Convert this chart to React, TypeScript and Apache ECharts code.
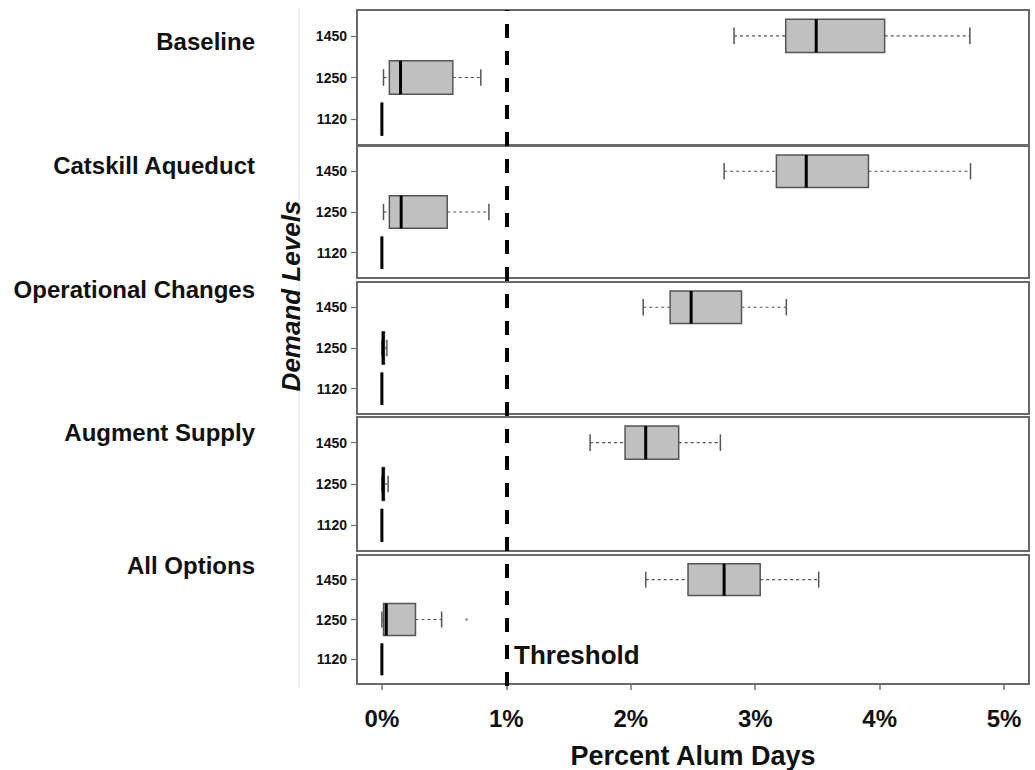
import React, { useEffect, useRef } from "react";
import * as echarts from "echarts";

// Demand level categories (bottom to top)
const categories = ["1120", "1250", "1450"];
const panelNames = ["Baseline", "Catskill Aqueduct", "Operational Changes", "Augment Supply", "All Options"];
const xTicks = [0, 1, 2, 3, 4, 5];
const threshold = 1;

// [min, q1, median, q3, max] per category (1120, 1250, 1450), in percent
const baseline = [
  [0, 0, 0, 0, 0],
  [0.013, 0.06, 0.15, 0.57, 0.795],
  [2.83, 3.245, 3.49, 4.04, 4.725],
];
const catskill = [
  [0, 0, 0, 0, 0],
  [0.013, 0.06, 0.155, 0.525, 0.86],
  [2.75, 3.17, 3.41, 3.91, 4.73],
];
const operational = [
  [0, 0, 0, 0, 0],
  [0, 0.005, 0.01, 0.02, 0.04],
  [2.1, 2.316, 2.485, 2.89, 3.25],
];
const augment = [
  [0, 0, 0, 0, 0],
  [0, 0.005, 0.01, 0.02, 0.05],
  [1.673, 1.954, 2.12, 2.385, 2.72],
];
const allOptions = [
  [0, 0, 0, 0, 0],
  [0, 0.013, 0.035, 0.27, 0.48],
  [2.12, 2.46, 2.75, 3.04, 3.51],
];
const allOptionsOutliers = [[0.68, "1250"]];

const panelData = [baseline, catskill, operational, augment, allOptions];

const FONT = "'Liberation Sans', Arial, sans-serif";
const NARROW = "'Liberation Sans Narrow', 'Liberation Sans', Arial, sans-serif";

const gridBoxes = [
  { top: 10, height: 135 },
  { top: 146, height: 132 },
  { top: 282, height: 132 },
  { top: 417, height: 134 },
  { top: 555, height: 131 },
];
const labelY = [41, 165, 289, 432, 565];

export default function App() {
  const ref = useRef<HTMLDivElement>(null);
  useEffect(() => {
    if (!ref.current) return;
    const chart = echarts.init(ref.current, null, { renderer: "svg" });
    const catIndex = (c: string) => categories.indexOf(c) + 1;

    const grids: any[] = gridBoxes.map((g) => ({
      left: 357,
      right: 6,
      top: g.top,
      height: g.height,
      show: true,
      borderColor: "#6a6a6a",
      borderWidth: 2,
      backgroundColor: "#fff",
    }));
    grids.push({ left: 357, right: 6, top: 10, height: 676, show: false });

    const xAxes: any[] = gridBoxes.map((_, i) => {
      const last = i === gridBoxes.length - 1;
      return {
        type: "value",
        gridIndex: i,
        min: -0.2,
        max: 5.2,
        position: "bottom",
        splitLine: { show: false },
        axisLine: { show: false, onZero: false },
        axisTick: last
          ? { show: true, customValues: xTicks, length: 6, lineStyle: { color: "#707070", width: 1.5 } }
          : { show: false },
        axisLabel: last
          ? {
              show: true,
              customValues: xTicks,
              formatter: (v: number) => `${v}%`,
              margin: 22,
              fontSize: 24,
              fontWeight: "bold",
              fontFamily: NARROW,
              color: "#111",
            }
          : { show: false },
        name: last ? "Percent Alum Days" : "",
        nameLocation: "middle",
        nameGap: 58,
        nameTextStyle: { fontSize: 27, fontWeight: "bold", fontFamily: NARROW, color: "#111" },
      };
    });
    xAxes.push({ type: "value", gridIndex: 5, min: -0.2, max: 5.2, show: false });

    const yAxes: any[] = gridBoxes.map((_, i) => ({
      type: "value",
      gridIndex: i,
      min: 0.38,
      max: 3.62,
      position: "left",
      splitLine: { show: false },
      axisLine: { show: false, onZero: false },
      axisTick: { show: true, customValues: [1, 2, 3], length: 6, lineStyle: { color: "#707070", width: 1.2 } },
      axisLabel: {
        show: true,
        customValues: [1, 2, 3],
        formatter: (v: number) => categories[Math.round(v) - 1] ?? "",
        margin: 10,
        fontSize: 14,
        fontWeight: "bold",
        fontFamily: FONT,
        color: "#111",
      },
    }));
    yAxes.push({ type: "value", gridIndex: 5, min: 0, max: 1, show: false });

    const renderBox = (params: any, api: any) => {
      const cat = api.value(0);
      const mn = api.value(1), q1 = api.value(2), md = api.value(3), q3 = api.value(4), mx = api.value(5);
      const h = api.size([0, 0.8])[1];
      const c = (x: number) => api.coord([x, cat]);
      const pMin = c(mn), pQ1 = c(q1), pMd = c(md), pQ3 = c(q3), pMax = c(mx);
      const y = pMd[1];
      const half = h / 2;
      const cap = h / 4;
      const wStyle = { stroke: "#555", lineWidth: 1.2, lineDash: [3, 3] };
      const cStyle = { stroke: "#555", lineWidth: 1.5 };
      return {
        type: "group",
        children: [
          { type: "line", shape: { x1: pMin[0], y1: y, x2: pQ1[0], y2: y }, style: wStyle },
          { type: "line", shape: { x1: pQ3[0], y1: y, x2: pMax[0], y2: y }, style: wStyle },
          { type: "line", shape: { x1: pMin[0], y1: y - cap, x2: pMin[0], y2: y + cap }, style: cStyle },
          { type: "line", shape: { x1: pMax[0], y1: y - cap, x2: pMax[0], y2: y + cap }, style: cStyle },
          {
            type: "rect",
            shape: { x: pQ1[0], y: y - half, width: pQ3[0] - pQ1[0], height: h },
            style: { fill: "#c0c0c0", stroke: "#555", lineWidth: 1.5 },
          },
          {
            type: "line",
            shape: { x1: pMd[0], y1: y - half, x2: pMd[0], y2: y + half },
            style: { stroke: "#000", lineWidth: 3 },
          },
        ],
      };
    };

    const series: any[] = panelData.map((pd, i) => ({
      type: "custom",
      xAxisIndex: i,
      yAxisIndex: i,
      renderItem: renderBox,
      encode: { x: [1, 2, 3, 4, 5], y: 0 },
      data: pd.map((row, k) => [k + 1, ...row]),
      silent: true,
      clip: false,
    }));
    series.push({
      type: "scatter",
      xAxisIndex: 4,
      yAxisIndex: 4,
      symbol: "circle",
      symbolSize: 3,
      itemStyle: { color: "#888" },
      data: allOptionsOutliers.map(([v, c]) => [v, catIndex(c as string)]),
      silent: true,
    });
    series.push({
      type: "line",
      xAxisIndex: 5,
      yAxisIndex: 5,
      data: [],
      showSymbol: false,
      silent: true,
      markLine: {
        silent: true,
        symbol: "none",
        label: { show: false },
        lineStyle: { color: "#000", width: 4, type: [14, 13] },
        data: [{ xAxis: threshold }],
      },
    });

    const graphics: any[] = [
      {
        type: "line",
        shape: { x1: 299, y1: 8, x2: 299, y2: 688 },
        style: { stroke: "#e4e4e4", lineWidth: 1 },
        silent: true,
      },
      ...panelNames.map((n, i) => ({
        type: "text",
        x: 255,
        y: labelY[i],
        style: {
          text: n,
          textAlign: "right",
          textVerticalAlign: "middle",
          font: `bold 24px ${FONT}`,
          fill: "#111",
        },
      })),
      {
        type: "text",
        x: 291,
        y: 296,
        rotation: Math.PI / 2,
        style: {
          text: "Demand Levels",
          textAlign: "center",
          textVerticalAlign: "middle",
          font: `italic bold 26px ${FONT}`,
          fill: "#111",
        },
      },
      {
        type: "text",
        x: 514,
        y: 655,
        z: 100,
        style: {
          text: "Threshold",
          textAlign: "left",
          textVerticalAlign: "middle",
          font: `bold 26px ${FONT}`,
          fill: "#111",
        },
      },
    ];

    chart.setOption({
      animation: false,
      backgroundColor: "#fff",
      grid: grids,
      xAxis: xAxes,
      yAxis: yAxes,
      series,
      graphic: graphics,
    });
    return () => chart.dispose();
  }, []);
  return (
    <div
      ref={ref}
      style={{ position: "fixed", left: 0, top: 0, width: 1035, height: 770, background: "#fff" }}
    />
  );
}
